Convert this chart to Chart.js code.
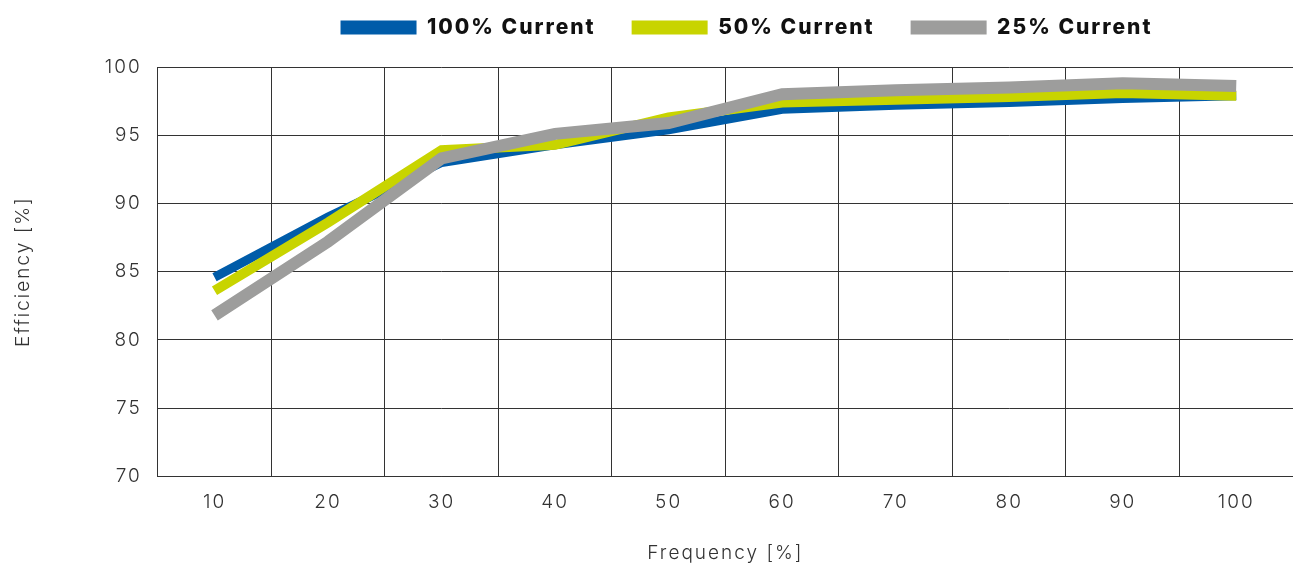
<!DOCTYPE html>
<html>
<head>
<meta charset="utf-8">
<script src="https://cdn.jsdelivr.net/npm/chart.js@4"></script>
<style>
  html, body { margin: 0; padding: 0; background: #fff; }
  #wrap { width: 1293px; height: 563px; }
</style>
</head>
<body>
<div id="wrap"><canvas id="efficiency-chart"></canvas></div>
<script>
// frequency categories and efficiency values
var frequency = ["10", "20", "30", "40", "50", "60", "70", "80", "90", "100"];
var current100 = [84.6, 89.0, 93.0, 94.3, 95.4, 96.9, 97.2, 97.4, 97.7, 97.9];
var current50 = [83.6, 88.6, 93.9, 94.3, 96.3, 97.4, 97.6, 97.8, 98.1, 97.9];
var current25 = [81.8, 87.2, 93.3, 95.1, 95.9, 98.0, 98.3, 98.5, 98.8, 98.6];
var yTicks = [70, 75, 80, 85, 90, 95, 100];

var thinFont = { family: 'Inter', size: 19, weight: 300 };

// spaced-out lettering like the original artwork, legend nudged right
// and given some extra room underneath
var spacingPlugin = {
    id: 'spacing',
    beforeInit: function (chart) {
        var fit = chart.legend.fit;
        chart.legend.fit = function () {
            fit.call(this);
            this.height += 19;
        };
    },
    beforeLayout: function (chart) { chart.ctx.letterSpacing = '2px'; },
    afterLayout: function (chart) {
        chart.legend.left += 96;
        chart.legend.right += 96;
    },
    beforeDraw: function (chart) { chart.ctx.letterSpacing = '2px'; }
};

function efficiencyDisplay() {
    new Chart(document.getElementById("efficiency-chart"), {
        type: 'line',
        data: {
            labels: frequency,
            datasets: [
                { label: "100% Current", data: current100, borderColor: "#005CA9", backgroundColor: "#005CA9", borderWidth: 9, order: 2 },
                { label: "50% Current", data: current50, borderColor: "#C8D400", backgroundColor: "#C8D400", borderWidth: 10, order: 1 },
                { label: "25% Current", data: current25, borderColor: "#9D9D9C", backgroundColor: "#9D9D9C", borderWidth: 12, order: 0 }
            ]
        },
        plugins: [spacingPlugin],
        options: {
            responsive: false,
            animation: false,
            devicePixelRatio: 1,
            layout: { padding: { left: 8, right: 0, top: -19, bottom: -2 } },
            elements: {
                point: { radius: 0 },
                line: { tension: 0, borderJoinStyle: 'miter', borderCapStyle: 'butt' }
            },
            plugins: {
                legend: {
                    position: 'top',
                    labels: {
                        boxWidth: 76,
                        boxHeight: 14,
                        padding: 36,
                        color: '#111',
                        font: { family: 'Inter', size: 21, weight: 800 },
                        sort: function (a, b) { return a.datasetIndex - b.datasetIndex; },
                        generateLabels: function (chart) {
                            var items = Chart.defaults.plugins.legend.labels.generateLabels(chart);
                            items.forEach(function (it) { it.lineWidth = 0; });
                            return items;
                        }
                    }
                },
                tooltip: { enabled: false }
            },
            scales: {
                x: {
                    offset: true,
                    grid: { offset: true, color: '#333', lineWidth: 1, drawTicks: false },
                    border: { color: '#333' },
                    ticks: { color: '#333', padding: 14, font: thinFont },
                    title: { display: true, text: 'Frequency [%]', color: '#333', padding: { top: 15, bottom: 0 }, font: thinFont }
                },
                y: {
                    min: 70,
                    max: 100,
                    afterBuildTicks: function (axis) { axis.ticks = yTicks.map(function (v) { return { value: v }; }); },
                    grid: { color: '#333', lineWidth: 1, drawTicks: false },
                    border: { color: '#333' },
                    ticks: { color: '#333', padding: 16, font: thinFont },
                    title: { display: true, text: 'Efficiency [%]', color: '#333', padding: { bottom: 54 }, font: thinFont }
                }
            }
        }
    });
}

var c = document.getElementById("efficiency-chart");
c.width = 1293;
c.height = 563;
efficiencyDisplay();
</script>
</body>
</html>
